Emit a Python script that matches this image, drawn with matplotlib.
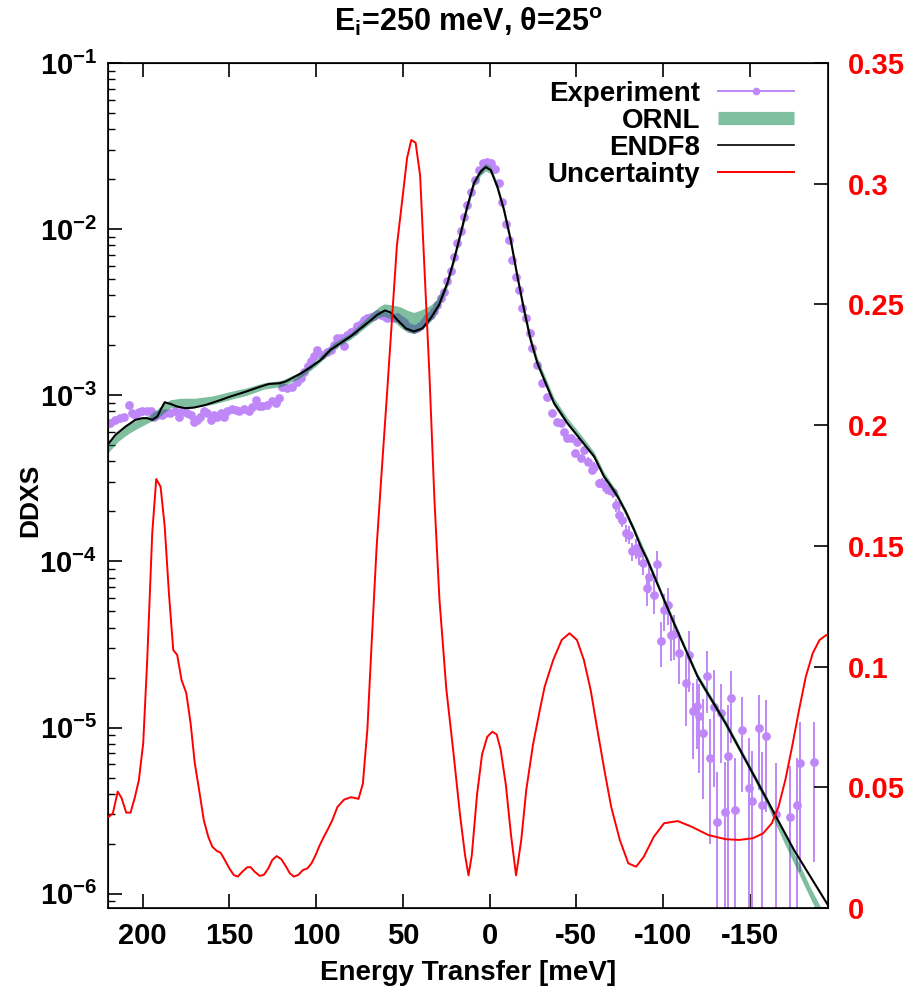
import numpy as np
import matplotlib
matplotlib.use('Agg')
import matplotlib.pyplot as plt
from matplotlib.lines import Line2D
from matplotlib.ticker import FixedLocator, LogLocator, NullFormatter

plt.rcParams['font.family'] = 'Liberation Sans'
plt.rcParams['font.weight'] = 'bold'
plt.rcParams['mathtext.fontset'] = 'custom'
plt.rcParams['mathtext.rm'] = 'Liberation Sans:bold'
plt.rcParams['mathtext.bf'] = 'Liberation Sans:bold'
plt.rcParams['mathtext.it'] = 'Liberation Sans:bold:italic'
plt.rcParams['axes.unicode_minus'] = False

# ---- Experiment (energy transfer [meV], DDXS, relative error) ----
EXP_E = [218.6, 215.7, 212.8, 210.9, 208.0, 206.1, 204.2, 202.2, 200.3, 197.4,
         195.5, 193.6, 191.6, 188.8, 186.9, 184.0, 181.1, 179.2, 177.2, 174.3,
         172.4, 170.5, 168.6, 166.7, 164.8, 162.8, 160.9, 159.0, 157.0, 155.1,
         153.2, 151.3, 148.4, 146.5, 144.6, 141.7, 138.8, 136.8, 134.9, 133.0,
         131.1, 128.2, 125.3, 123.4, 121.5, 119.6, 116.7, 113.8, 110.9, 109.0,
         107.0, 105.0, 103.2, 101.3, 99.4, 96.5, 93.6, 91.7, 89.8, 87.8,
         85.9, 84.0, 82.0, 80.2, 78.2, 76.3, 74.4, 72.5, 70.5, 68.6,
         66.7, 64.7, 62.8, 60.9, 59.0, 57.1, 55.2, 53.2, 51.3, 49.4,
         47.5, 45.6, 43.7, 41.8, 39.9, 37.9, 36.0, 34.0, 32.1, 30.2,
         28.3, 26.3, 24.4, 22.5, 20.6, 18.6, 16.7, 14.8, 12.9, 11.0,
         8.7, 6.2, 3.6, 1.3, -0.6, -2.9, -5.4, -7.3, -9.2, -11.1,
         -13.1, -15.0, -16.9, -18.9, -20.8, -23.2, -24.6, -27.5, -30.4, -33.3,
         -36.2, -39.0, -40.9, -42.9, -44.8, -46.7, -49.0, -50.6, -52.9, -54.4,
         -56.9, -59.2, -60.2, -63.0, -65.0, -67.0, -68.8, -70.8, -72.7, -74.6,
         -76.5, -78.4, -80.3, -82.3, -84.2, -86.1, -88.1, -90.5, -91.9, -94.8,
         -96.3, -98.6, -100.5, -102.5, -104.4, -106.5, -108.9, -113.1, -114.8, -117.1,
         -119.6, -120.9, -122.9, -125.1, -127.0, -129.3, -131.3, -133.2, -135.4, -137.1,
         -139.1, -141.2, -145.2, -149.2, -151.0, -155.1, -157.0, -159.2, -165.0, -173.2,
         -177.1, -179.1, -187.2]
EXP_D = [6.8e-4, 7.1e-4, 7.3e-4, 7.45e-4, 8.75e-4, 7.8e-4, 7.6e-4, 7.9e-4, 8.0e-4, 8.0e-4,
         8.0e-4, 7.45e-4, 7.6e-4, 7.6e-4, 7.8e-4, 7.8e-4, 8.0e-4, 7.45e-4, 8.0e-4, 7.8e-4,
         7.6e-4, 6.9e-4, 7.1e-4, 7.45e-4, 8.0e-4, 7.8e-4, 7.1e-4, 7.6e-4, 7.45e-4, 7.8e-4,
         7.45e-4, 8.0e-4, 8.3e-4, 8.1e-4, 8.0e-4, 8.3e-4, 8.0e-4, 8.5e-4, 9.4e-4, 8.6e-4,
         8.6e-4, 8.75e-4, 9.2e-4, 9.0e-4, 9.6e-4, 1.12e-3, 1.10e-3, 1.12e-3, 1.21e-3, 1.27e-3,
         1.38e-3, 1.50e-3, 1.60e-3, 1.72e-3, 1.87e-3, 1.75e-3, 1.83e-3, 1.87e-3, 2.0e-3, 2.2e-3,
         2.2e-3, 1.97e-3, 2.3e-3, 2.39e-3, 2.45e-3, 2.6e-3, 2.7e-3, 2.84e-3, 2.91e-3, 2.97e-3,
         3.0e-3, 3.1e-3, 3.05e-3, 3.0e-3, 2.92e-3, 2.95e-3, 2.92e-3, 2.95e-3, 2.84e-3, 2.75e-3,
         2.6e-3, 2.55e-3, 2.5e-3, 2.55e-3, 2.6e-3, 2.78e-3, 2.9e-3, 3.05e-3, 3.2e-3, 3.5e-3,
         3.84e-3, 4.2e-3, 4.9e-3, 5.6e-3, 6.8e-3, 8.2e-3, 9.7e-3, 1.19e-2, 1.40e-2, 1.68e-2,
         1.97e-2, 2.27e-2, 2.49e-2, 2.55e-2, 2.50e-2, 2.30e-2, 1.89e-2, 1.45e-2, 1.07e-2, 8.6e-3,
         6.53e-3, 5.18e-3, 4.30e-3, 3.34e-3, 2.91e-3, 2.36e-3, 1.92e-3, 1.52e-3, 1.18e-3, 9.8e-4,
         7.8e-4, 6.95e-4, 6.79e-4, 6.0e-4, 5.52e-4, 5.52e-4, 4.49e-4, 5.26e-4, 4.18e-4, 4.69e-4,
         3.99e-4, 3.56e-4, 3.72e-4, 2.96e-4, 2.96e-4, 2.75e-4, 2.70e-4, 2.6e-4, 2.19e-4, 1.91e-4,
         1.78e-4, 1.48e-4, 1.45e-4, 1.15e-4, 1.2e-4, 1.12e-4, 9.8e-5, 6.9e-5, 8.1e-5, 6.3e-5,
         9.6e-5, 3.3e-5, 5.1e-5, 5.5e-5, 3.61e-5, 3.65e-5, 2.8e-5, 1.85e-5, 2.72e-5, 1.25e-5,
         1.35e-5, 1.18e-5, 9.3e-6, 2.05e-5, 6.6e-6, 1.33e-5, 2.7e-6, 1.22e-5, 3.1e-6, 6.7e-6,
         1.5e-5, 3.2e-6, 9.7e-6, 4.3e-6, 3.6e-6, 1.0e-5, 3.4e-6, 8.9e-6, 3.0e-6, 2.9e-6,
         3.4e-6, 6.1e-6, 6.2e-6]
EXP_REL = [0.02] * 120 + \
          [0.04, 0.04, 0.04, 0.04, 0.04, 0.04, 0.05, 0.05, 0.05, 0.05,
           0.06, 0.06, 0.06, 0.06, 0.07, 0.07, 0.07, 0.08, 0.09, 0.10,
           0.10, 0.12, 0.12, 0.13, 0.14, 0.15, 0.16, 0.22, 0.2, 0.23,
           0.2, 0.3, 0.25, 0.25, 0.3, 0.3, 0.35, 0.45, 0.4, 0.48,
           0.45, 0.55, 0.6, 0.4, 0.7, 0.67, 1.0, 0.5, 1.0, 1.05,
           0.46, 1.05, 0.58, 1.0, 1.0, 0.58, 1.1, 0.65, 1.03, 1.03,
           0.92, 0.78, 0.75]

# ---- ORNL band (lower / upper edge) ----
ORNL_E = [220, 214, 208, 202, 196, 192, 188, 184, 178, 170, 160, 150, 140, 130,
          120, 110, 100, 90, 80, 70.5, 64, 60.9, 56, 51.3, 47.5, 43.7, 40, 36,
          32.1, 27.3, 24.4, 20.6, 16.7, 12.9, 9.1, 5.2, 2.3, -0.6, -4.4, -8.2,
          -12.1, -16.0, -19.8, -23.6, -27.5, -32.3, -37.1, -44.8, -52.5, -60.2,
          -65.9, -73.7, -83.2, -90.9, -100.5, -112.1, -119.8, -136.0, -150,
          -160, -165, -170, -175, -180, -185, -190, -195]
ORNL_LO = [4.5e-4, 5.3e-4, 5.9e-4, 6.4e-4, 6.9e-4, 7.2e-4, 7.8e-4, 8.4e-4, 8.6e-4,
           8.5e-4, 8.8e-4, 9.4e-4, 1.0e-3, 1.09e-3, 1.13e-3, 1.26e-3, 1.5e-3, 1.89e-3,
           2.18e-3, 2.62e-3, 2.95e-3, 3.0e-3, 2.85e-3, 2.55e-3, 2.4e-3, 2.35e-3,
           2.45e-3, 2.65e-3, 2.95e-3, 3.75e-3, 4.5e-3, 6.2e-3, 9.0e-3, 1.30e-2,
           1.80e-2, 2.11e-2, 2.24e-2, 2.16e-2, 1.71e-2, 1.25e-2, 8.2e-3, 4.92e-3,
           3.11e-3, 2.05e-3, 1.49e-3, 1.13e-3, 8.6e-4, 6.6e-4, 5.25e-4, 4.15e-4,
           3.12e-4, 2.36e-4, 1.48e-4, 9.7e-5, 5.6e-5, 2.94e-5, 1.94e-5, 1.01e-5,
           5.45e-6, 3.4e-6, 2.6e-6, 2.0e-6, 1.55e-6, 1.2e-6, 9.3e-7, 7.3e-7, 5.7e-7]
ORNL_HI = [5.15e-4, 6.0e-4, 6.7e-4, 7.2e-4, 7.6e-4, 8.2e-4, 8.9e-4, 9.4e-4, 9.6e-4,
           9.6e-4, 9.9e-4, 1.05e-3, 1.11e-3, 1.19e-3, 1.23e-3, 1.37e-3, 1.63e-3, 2.06e-3,
           2.38e-3, 2.95e-3, 3.4e-3, 3.55e-3, 3.5e-3, 3.4e-3, 3.25e-3, 3.15e-3,
           3.25e-3, 3.4e-3, 3.6e-3, 4.3e-3, 4.95e-3, 6.85e-3, 9.9e-3, 1.44e-2,
           1.98e-2, 2.33e-2, 2.48e-2, 2.38e-2, 1.89e-2, 1.38e-2, 9.05e-3, 5.45e-3,
           3.45e-3, 2.3e-3, 1.68e-3, 1.27e-3, 9.65e-4, 7.3e-4, 5.8e-4, 4.55e-4,
           3.45e-4, 2.6e-4, 1.62e-4, 1.07e-4, 6.15e-5, 3.22e-5, 2.12e-5, 1.11e-5,
           5.95e-6, 3.8e-6, 2.95e-6, 2.3e-6, 1.8e-6, 1.4e-6, 1.08e-6, 8.6e-7, 6.7e-7]

# ---- ENDF8 ----
ENDF_E = [219.5, 215.7, 209.9, 204.2, 200.3, 197.4, 194.5, 191.6, 189.2, 187.3,
          184.0, 180.1, 175.3, 170.5, 163.8, 156.1, 148.4, 140.7, 133.0, 127.3,
          121.5, 117.6, 113.8, 108.0, 102.2, 97.4, 91.7, 80.2, 70.5, 64.8,
          60.4, 57.1, 53.2, 48.4, 43.7, 38.8, 34.0, 29.2, 24.4, 20.6,
          16.7, 12.9, 9.1, 5.2, 2.3, -0.6, -4.4, -8.2, -12.1, -16.0,
          -19.8, -23.6, -27.5, -32.3, -37.1, -44.8, -52.5, -60.2, -65.9, -69.8,
          -73.7, -78.5, -83.2, -87.1, -90.9, -95.7, -100.5, -106.1, -112.1, -119.8,
          -136.0, -155.7, -175.3, -195.5]
ENDF_D = [5.15e-4, 5.78e-4, 6.48e-4, 7.11e-4, 7.28e-4, 7.28e-4, 7.11e-4, 7.45e-4, 8.36e-4, 9.08e-4,
          8.87e-4, 8.55e-4, 8.36e-4, 8.43e-4, 8.74e-4, 9.29e-4, 9.91e-4, 1.05e-3, 1.12e-3, 1.17e-3,
          1.18e-3, 1.21e-3, 1.27e-3, 1.37e-3, 1.50e-3, 1.63e-3, 1.88e-3, 2.26e-3, 2.72e-3, 3.05e-3,
          3.24e-3, 3.15e-3, 2.84e-3, 2.53e-3, 2.42e-3, 2.53e-3, 2.91e-3, 3.50e-3, 4.73e-3, 6.53e-3,
          9.45e-3, 1.37e-2, 1.89e-2, 2.22e-2, 2.36e-2, 2.27e-2, 1.80e-2, 1.31e-2, 8.61e-3, 5.18e-3,
          3.27e-3, 2.15e-3, 1.56e-3, 1.18e-3, 8.96e-4, 6.79e-4, 5.39e-4, 4.28e-4, 3.24e-4, 2.85e-4,
          2.46e-4, 1.99e-4, 1.55e-4, 1.23e-4, 1.02e-4, 7.75e-5, 5.87e-5, 4.27e-5, 3.08e-5, 2.03e-5,
          1.06e-5, 4.42e-6, 1.84e-6, 8.36e-7]

# ---- Uncertainty (right axis) ----
UNC_E = [219.5, 217.2, 214.4, 212.2, 209.5, 207.0, 204.6, 202.2, 199.7, 197.4,
         194.5, 192.2, 189.7, 187.3, 184.9, 182.4, 180.1, 177.6, 174.9, 172.4,
         170.0, 167.2, 164.8, 162.2, 159.9, 157.4, 155.1, 152.7, 149.9, 147.5,
         145.2, 142.6, 139.7, 137.8, 135.4, 132.6, 130.2, 127.6, 125.3, 122.8,
         120.1, 117.6, 115.2, 112.9, 110.3, 107.7, 105.1, 102.7, 100.3, 97.9,
         95.6, 93.0, 90.7, 87.8, 83.9, 79.9, 75.6, 73.1, 70.5, 68.2,
         65.2, 62.3, 59.3, 56.4, 53.5, 50.1, 47.6, 45.2, 42.7, 40.1,
         37.8, 34.8, 31.9, 29.0, 25.0, 21.1, 17.1, 14.2, 12.2, 10.3,
         7.3, 4.4, 1.4, -1.5, -4.0, -6.3, -9.3, -12.3, -15.2, -18.2,
         -21.1, -25.0, -29.0, -31.7, -36.6, -41.5, -46.0, -50.3, -54.3, -58.2,
         -62.1, -66.1, -70.0, -75.0, -79.9, -84.4, -88.8, -94.6, -100.5, -108.4,
         -116.3, -126.1, -136.0, -143.8, -151.7, -157.6, -162.6, -166.5, -170.4, -174.3,
         -178.3, -182.2, -186.2, -190.1, -194.1, -197.2]
UNC_V = [0.0378, 0.0392, 0.0482, 0.0456, 0.0395, 0.0395, 0.0456, 0.0530, 0.0683, 0.1027,
         0.1553, 0.1777, 0.1745, 0.1579, 0.1305, 0.1069, 0.1048, 0.0944, 0.0891, 0.0766,
         0.0601, 0.0476, 0.0364, 0.0295, 0.0254, 0.0237, 0.0229, 0.0199, 0.0162, 0.0137,
         0.0130, 0.0150, 0.0169, 0.0169, 0.0150, 0.0133, 0.0137, 0.0164, 0.0199, 0.0215,
         0.0202, 0.0174, 0.0144, 0.0130, 0.0137, 0.0157, 0.0164, 0.0185, 0.0220, 0.0261,
         0.0295, 0.0330, 0.0364, 0.0418, 0.0449, 0.0459, 0.0452, 0.0515, 0.0740, 0.1074,
         0.1491, 0.1804, 0.2117, 0.2430, 0.2742, 0.2951, 0.3107, 0.3181, 0.3170, 0.3034,
         0.2680, 0.2221, 0.1700, 0.1282, 0.0907, 0.0657, 0.0386, 0.0219, 0.0135, 0.0219,
         0.0469, 0.0636, 0.0709, 0.0730, 0.0719, 0.0657, 0.0511, 0.0302, 0.0135, 0.0282,
         0.0490, 0.0678, 0.0824, 0.0917, 0.1027, 0.1110, 0.1138, 0.1110, 0.1027, 0.0903,
         0.0737, 0.0572, 0.0420, 0.0282, 0.0185, 0.0171, 0.0212, 0.0295, 0.0351, 0.0360,
         0.0337, 0.0302, 0.0285, 0.0282, 0.0289, 0.0309, 0.0351, 0.0420, 0.0530, 0.0668,
         0.0820, 0.0958, 0.1055, 0.1110, 0.1131, 0.1118]

XTICKS = [200, 150, 100, 50, 0, -50, -100, -150]
YTICKS = [1e-6, 1e-5, 1e-4, 1e-3, 1e-2, 1e-1]
Y2TICKS = [0, 0.05, 0.1, 0.15, 0.2, 0.25, 0.3, 0.35]
Y2LABELS = ['0', '0.05', '0.1', '0.15', '0.2', '0.25', '0.3', '0.35']
LEGEND = ['Experiment', 'ORNL', 'ENDF8', 'Uncertainty']

PURPLE = '#bf87f7'
GREEN = '#008040'
W, H = 910, 998

fig = plt.figure(figsize=(W / 100, H / 100), dpi=100)
ax = fig.add_axes([108 / W, (H - 908) / H, 720 / W, 845 / H])

e = np.array(EXP_D) * np.array(EXP_REL)
ax.errorbar(EXP_E, EXP_D, yerr=e, fmt='o', color=PURPLE, ms=6.3, mew=0,
            elinewidth=1.4, capsize=0, zorder=2)
ax.fill_between(ORNL_E, ORNL_LO, ORNL_HI, color=GREEN, alpha=0.5, lw=0, zorder=3)
ax.plot(ENDF_E, ENDF_D, color='black', lw=1.5, zorder=4)

ax.set_yscale('log')
ax.set_xlim(220, -195)
ax.set_ylim(8.2e-7, 0.1)
ax.set_xticks(XTICKS)
ax.set_xticklabels([str(t) for t in XTICKS])
ax.yaxis.set_major_locator(FixedLocator(YTICKS))
ax.yaxis.set_minor_locator(LogLocator(base=10, subs=range(2, 10), numticks=20))
ax.yaxis.set_minor_formatter(NullFormatter())
ax.set_yticklabels([r'$\mathbf{10^{%d}}$' % int(np.log10(t)) for t in YTICKS])
ax.tick_params(axis='x', direction='in', top=True, length=10, width=1.2,
               labelsize=21, pad=10)
ax.tick_params(axis='y', which='major', direction='in', right=False, length=10,
               width=1.2, labelsize=21, pad=8)
ax.tick_params(axis='y', which='minor', direction='in', right=False, length=5, width=1.0)
for s in ax.spines.values():
    s.set_linewidth(1.2)

ax2 = ax.twinx()
ax2.plot(UNC_E, UNC_V, color='red', lw=1.4, zorder=5)
ax2.set_ylim(0, 0.35)
ax2.set_yticks(Y2TICKS)
ax2.set_yticklabels(Y2LABELS)
ax2.tick_params(axis='y', direction='in', length=10, width=1.2, labelsize=21,
                labelcolor='red', pad=14)

# legend drawn gnuplot-style: right-justified text, sample to the right
styles = [dict(color=PURPLE, lw=1.4, marker='o', ms=5.5, mew=0, markevery=[1]),
          dict(color='#7fc0a0', lw=9.5, solid_capstyle='butt'),
          dict(color='black', lw=1.2),
          dict(color='red', lw=1.4)]
for i, (lab, st) in enumerate(zip(LEGEND, styles)):
    yrow = 1 - (91 + 27 * i) / H
    fig.text(700 / W, yrow - 10 / H, lab, ha='right', va='baseline',
             fontsize=20, fontweight='bold')
    fig.add_artist(Line2D([718 / W, 756 / W, 794 / W], [yrow] * 3,
                          transform=fig.transFigure, **st))

fig.text(468 / W, 1 - 31 / H, r'E$_\mathbf{i}$=250 meV, θ=25$^\mathbf{o}$',
         ha='center', va='baseline', fontsize=22, fontweight='bold')
fig.text(468 / W, 1 - 973 / H, 'Energy Transfer [meV]', ha='center', va='center',
         fontsize=20, fontweight='bold')
fig.text(30 / W, 1 - 500 / H, 'DDXS', ha='center', va='center', rotation=90,
         fontsize=19, fontweight='bold')

fig.savefig('out.png', dpi=100)
